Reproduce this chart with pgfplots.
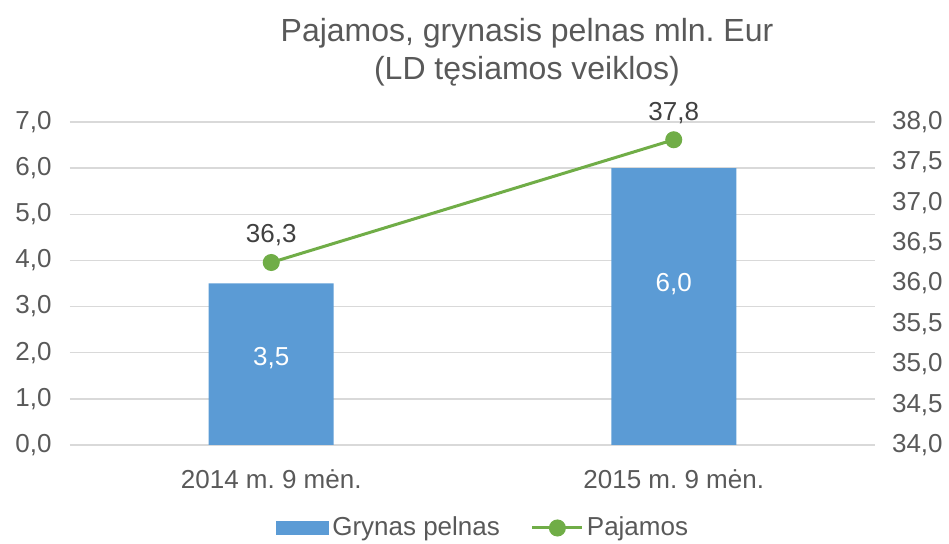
\documentclass[border=0pt]{standalone}
\usepackage{fontspec}
\setmainfont{Liberation Sans}
\usepackage{pgfplots}
\pgfplotsset{compat=1.18}
\definecolor{barblue}{HTML}{5B9BD5}
\definecolor{linegreen}{HTML}{70AD47}
\definecolor{txt}{HTML}{595959}
\definecolor{dlab}{HTML}{404040}
\definecolor{gridc}{HTML}{D9D9D9}
\frenchspacing
\begin{document}
\begin{tikzpicture}
\pgfplotsset{
  common/.style={
    scale only axis, width=402.5pt, height=161.5pt,
    xmin=-0.5, xmax=1.5,
    major tick length=0pt,
    tick label style={font=\fontsize{13}{15}\selectfont, text=txt},
    y tick label style={/pgf/number format/fixed, /pgf/number format/fixed zerofill,
      /pgf/number format/precision=1, /pgf/number format/use comma,
      /pgf/number format/assume math mode=true},
  }
}
\begin{axis}[common,
  ymin=0, ymax=7, ytick={0,1,...,7},
  xtick={0,1}, xticklabels={2014 m. 9 mėn., 2015 m. 9 mėn.},
  x tick label style={anchor=base, yshift=-22pt},
  y tick label style={xshift=-5.7pt},
  ymajorgrids, grid style={draw=gridc, line width=0.75pt},
  axis x line*=bottom, axis y line*=left,
  x axis line style={draw=gridc, line width=0.75pt, -},
  y axis line style={draw=none},
]
\addplot[ybar, bar width=62.5pt, fill=barblue, draw=none] coordinates {(0,3.5) (1,6.0)};
\node[text=white, font=\fontsize{13}{15}\selectfont] at (axis cs:0,1.885) {3,5};
\node[text=white, font=\fontsize{13}{15}\selectfont] at (axis cs:1,3.49) {6,0};
\end{axis}
\begin{axis}[common,
  ymin=34, ymax=38, ytick={34,34.5,...,38},
  axis x line=none, axis y line*=right,
  y axis line style={draw=none},
  y tick label style={xshift=5pt},
  legend style={at={(0.514,0)}, yshift=-41.5pt, anchor=center, draw=none, fill=none,
    legend columns=2, font=\fontsize{13}{15}\selectfont, text=txt,
    /tikz/every even column/.append style={column sep=14pt},
    nodes={inner sep=1.5pt}},
  legend cell align=left,
]
\addlegendimage{legend image code/.code={\fill[barblue] (0pt,-3.25pt) rectangle (26pt,3.25pt);}}
\addlegendentry{Grynas pelnas}
\addplot[linegreen, line width=1.5pt, mark=*, mark size=3.5pt,
  mark options={fill=linegreen, draw=linegreen},
  legend image code/.code={\draw[linegreen, line width=1.5pt] (0pt,0pt) -- (25pt,0pt);
    \fill[linegreen] (12.5pt,0pt) circle (3.5pt);},
  nodes near coords, point meta=explicit symbolic,
  nodes near coords style={anchor=center, yshift=13.5pt, text=dlab, font=\fontsize{13}{15}\selectfont}]
  coordinates {(0,36.26) [36,3] (1,37.78) [37,8]};
\addlegendentry{Pajamos}
\end{axis}
\node[anchor=south, align=center, inner sep=0pt, text=txt, font=\fontsize{16}{19}\selectfont]
  at (228.5pt,179.4pt) {Pajamos, grynasis pelnas mln. Eur\\(LD tęsiamos veiklos)};
\pgfresetboundingbox
\path[use as bounding box] (-35pt,-49.5pt) rectangle (439.5pt,222.5pt);
\end{tikzpicture}
\end{document}
